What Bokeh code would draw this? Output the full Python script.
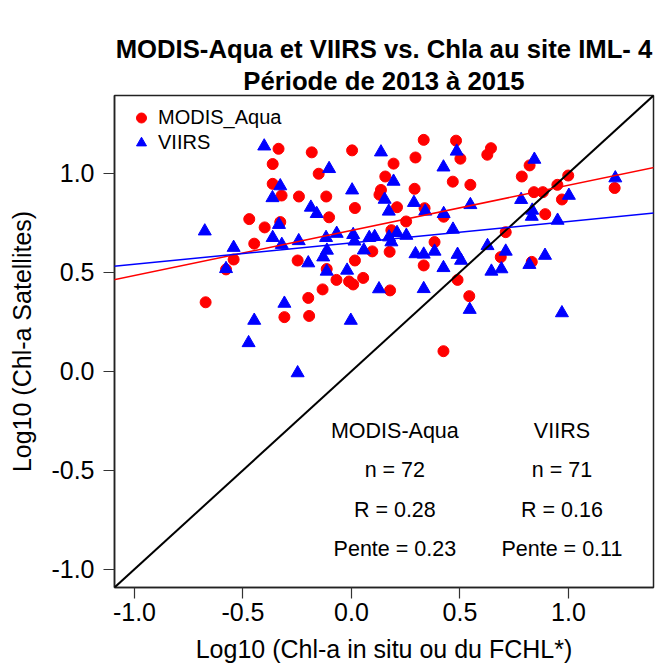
from bokeh.plotting import figure
from bokeh.models import (Slope, Title, Legend, LegendItem, Range1d, FixedTicker,
                          ColumnDataSource, NumeralTickFormatter)
from bokeh.embed import file_html
from bokeh.resources import INLINE
from bokeh.core.properties import value

# ---------------- data ----------------
modis_x = [-0.336, -0.363, -0.363, -0.322, -0.242, -0.471, -0.400, -0.328, -0.448, -0.543,
           -0.578, -0.672, -0.309, -0.248, -0.183, 0.003, -0.151, -0.116, 0.016, -0.103,
           0.016, -0.114, -0.069, -0.011, 0.008, 0.054, -0.133, -0.199, -0.195, 0.333,
           0.482, 0.502, 0.295, 0.194, 0.156, 0.136, 0.129, 0.291, 0.467, 0.210,
           0.337, 0.425, 0.252, 0.184, 0.383, 0.096, 0.176, 0.333, 0.178, 0.489,
           0.424, 0.643, 0.626, 0.821, 0.785, 0.548, 0.999, 0.949, 0.841, 0.882,
           0.970, 1.213, 0.893, 0.711, 0.688, 0.831, 0.543]
modis_y = [1.123, 1.046, 0.946, 0.887, 0.882, 0.768, 0.726, 0.753, 0.644, 0.564,
           0.514, 0.348, 0.273, 0.559, 1.105, 1.115, 0.997, 0.882, 0.824, 0.777,
           0.559, 0.516, 0.461, 0.453, 0.438, 0.471, 0.413, 0.370, 0.279, 1.168,
           1.164, 1.073, 1.079, 1.048, 0.983, 0.915, 0.891, 0.921, 0.957, 0.828,
           0.823, 0.780, 0.756, 0.712, 0.652, 0.605, 0.603, 0.534, 0.408, 0.461,
           0.101, 1.126, 1.093, 1.039, 0.983, 0.941, 0.988, 0.941, 0.904, 0.904,
           0.867, 0.925, 0.793, 0.702, 0.576, 0.552, 0.379]

viirs_x = [-0.402, -0.328, -0.364, -0.676, -0.334, -0.363, -0.321, -0.543, -0.243, -0.103,
           0.003, -0.187, -0.160, -0.117, -0.068, 0.008, 0.014, 0.082, 0.107, 0.057,
           -0.113, -0.130, -0.199, -0.578, -0.114, -0.020, 0.136, 0.485, 0.424, 0.194,
           0.153, 0.288, 0.172, 0.340, 0.425, 0.468, 0.173, 0.184, 0.210, 0.253,
           0.295, 0.333, 0.383, 0.489, 0.505, 0.843, 1.216, 1.002, 0.782, 0.548,
           0.833, 0.831, 0.950, 0.627, 0.711, 0.892, 0.645, 0.691, 0.820, 0.424,
           -0.309, -0.448, -0.474, -0.248, 0.127, 0.333, -0.003, 0.545, 0.970]
viirs_y = [1.136, 0.935, 0.875, 0.707, 0.740, 0.674, 0.639, 0.624, 0.658, 1.022,
           0.914, 0.827, 0.795, 0.674, 0.695, 0.689, 0.656, 0.674, 0.679, 0.611,
           0.610, 0.576, 0.546, 0.517, 0.504, 0.509, 1.106, 1.110, 1.030, 0.958,
           0.867, 0.851, 0.807, 0.807, 0.795, 0.716, 0.677, 0.652, 0.699, 0.685,
           0.592, 0.590, 0.605, 0.589, 0.559, 1.069, 0.975, 0.887, 0.866, 0.840,
           0.812, 0.781, 0.761, 0.633, 0.605, 0.584, 0.504, 0.516, 0.538, 0.522,
           0.342, 0.256, 0.143, -0.009, 0.415, 0.416, 0.256, 0.311, 0.294]

# regression lines: [intercept, slope]
modis_fit = [0.711, 0.228]
viirs_fit = [0.648, 0.108]

tick_values = [-1.0, -0.5, 0.0, 0.5, 1.0]
axis_limits = [-1.092, 1.392]

series_names = ["MODIS-Aqua", "VIIRS"]
legend_labels = ["MODIS_Aqua", "VIIRS"]
stat_x = [0.20, 0.97]
stat_n = [72, 71]
stat_r = [0.28, 0.16]
stat_pente = [0.23, 0.11]
stat_rows_y = [-0.30, -0.50, -0.70, -0.90]

title_line1 = "MODIS-Aqua et VIIRS vs. Chla au site IML- 4"
title_line2 = "Période de 2013 à 2015"
x_label = "Log10 (Chl-a in situ ou du FCHL*)"
y_label = "Log10 (Chl-a Satellites)"

FONT = "Liberation Sans"

# ---------------- figure ----------------
p = figure(frame_width=539, frame_height=492,
           x_range=Range1d(*axis_limits), y_range=Range1d(*axis_limits),
           output_backend="svg", toolbar_location=None,
           min_border_left=114, min_border_right=4, min_border_top=95, min_border_bottom=84,
           background_fill_color="white", border_fill_color="white")
p.outline_line_color = "#222222"
p.outline_line_width = 1.5
p.xgrid.visible = False
p.ygrid.visible = False

for ax in (p.xaxis[0], p.yaxis[0]):
    ax.ticker = FixedTicker(ticks=tick_values)
    ax.formatter = NumeralTickFormatter(format="0.0")
    ax.minor_tick_line_color = None
    ax.major_tick_in = 0
    ax.major_tick_out = 11
    ax.major_tick_line_color = "#333333"
    ax.major_tick_line_width = 1.2
    ax.axis_line_color = "#222222"
    ax.axis_line_width = 1.5
    ax.major_label_text_font = FONT
    ax.major_label_text_font_size = "25px"
    ax.major_label_text_color = "black"
    ax.axis_label_text_font = FONT
    ax.axis_label_text_font_size = "25px"
    ax.axis_label_text_font_style = "normal"
    ax.axis_label_text_color = "black"

p.xaxis.major_label_standoff = 4
p.yaxis.major_label_standoff = 9
p.xaxis.axis_label = x_label
p.xaxis.axis_label_standoff = 11
p.yaxis.axis_label = y_label
p.yaxis.axis_label_standoff = 12

# titles
t2 = Title(text=title_line2, align="center", text_font=FONT, text_font_size="25.7px",
           text_font_style="bold", text_color="black", standoff=2)
t1 = Title(text=title_line1, align="center", text_font=FONT, text_font_size="25.7px",
           text_font_style="bold", text_color="black", standoff=2)
p.add_layout(t2, "above")
p.add_layout(t1, "above")

# points
r_modis = p.scatter(modis_x, modis_y, marker="circle", size=11,
                    fill_color="#FF0000", line_color="#FF0000")
r_viirs = p.scatter(viirs_x, viirs_y, marker="triangle", size=13,
                    fill_color="#0000FF", line_color="#0000FF")

# lines
p.add_layout(Slope(gradient=1, y_intercept=0, line_color="black", line_width=2))
p.add_layout(Slope(gradient=modis_fit[1], y_intercept=modis_fit[0], line_color="#FF0000", line_width=1.5))
p.add_layout(Slope(gradient=viirs_fit[1], y_intercept=viirs_fit[0], line_color="#0000FF", line_width=1.5))

# statistics text
texts, xs, ys = [], [], []
for i in range(2):
    rows = [series_names[i], f"n = {stat_n[i]}", f"R = {stat_r[i]:.2f}", f"Pente = {stat_pente[i]:.2f}"]
    for t, yy in zip(rows, stat_rows_y):
        texts.append(t)
        xs.append(stat_x[i])
        ys.append(yy)
src = ColumnDataSource(dict(x=xs, y=ys, text=texts))
p.text(x="x", y="y", text="text", source=src, text_align="center", text_baseline="middle",
       text_font=value(FONT), text_font_size="21.5px", text_color="black")

legend = Legend(items=[LegendItem(label=legend_labels[0], renderers=[r_modis]),
                       LegendItem(label=legend_labels[1], renderers=[r_viirs])],
                location=(7, 427), border_line_alpha=0, background_fill_alpha=0,
                padding=5, spacing=0, margin=0, glyph_width=30, glyph_height=25,
                label_standoff=2, label_text_font=FONT, label_text_font_size="20px",
                label_text_color="black", label_height=25)
p.add_layout(legend)

open("out.html", "w").write(file_html(p, INLINE))
